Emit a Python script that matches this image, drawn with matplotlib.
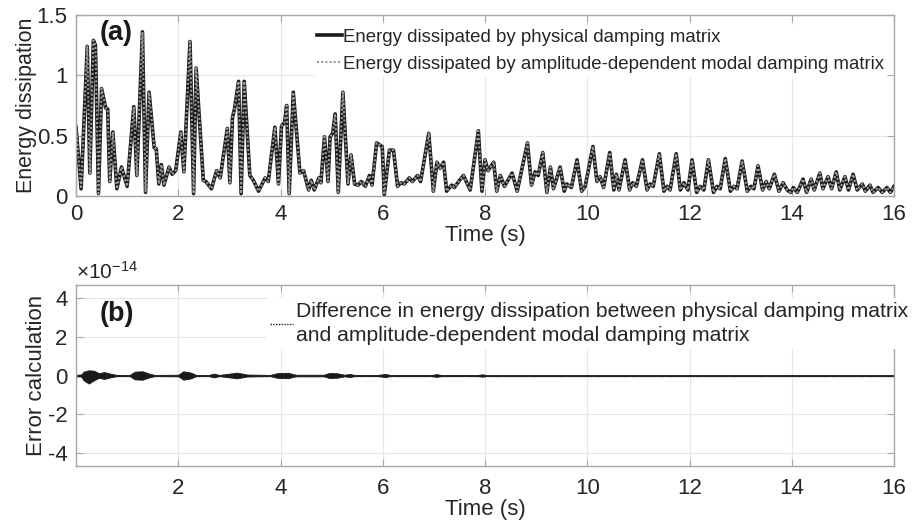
import matplotlib
matplotlib.use("Agg")
import matplotlib.pyplot as plt
import numpy as np

# ---------------- data ----------------
energy_time = [0.00, 0.10, 0.22, 0.27, 0.34, 0.38, 0.44, 0.50, 0.58, 0.62, 0.66, 0.72, 0.80, 0.89,
               1.00, 1.13, 1.19, 1.30, 1.36, 1.43, 1.53, 1.57, 1.62, 1.67, 1.72, 1.82, 1.88, 1.95,
               2.05, 2.11, 2.23, 2.30, 2.35, 2.49, 2.54, 2.65, 2.75, 2.82, 2.96, 3.01, 3.06, 3.10,
               3.18, 3.23, 3.29, 3.40, 3.47, 3.57, 3.70, 3.76, 3.89, 3.96, 4.02, 4.08, 4.12, 4.17,
               4.25, 4.38, 4.45, 4.55, 4.60, 4.66, 4.75, 4.79, 4.86, 4.93, 4.97, 5.02, 5.07, 5.13,
               5.22, 5.32, 5.38, 5.45, 5.52, 5.58, 5.66, 5.74, 5.79, 5.88, 5.99, 6.03, 6.13, 6.21,
               6.29, 6.35, 6.42, 6.52, 6.58, 6.68, 6.74, 6.90, 6.99, 7.06, 7.12, 7.19, 7.25, 7.35,
               7.40, 7.45, 7.52, 7.58, 7.71, 7.87, 7.94, 8.00, 8.06, 8.17, 8.23, 8.30, 8.38, 8.53,
               8.63, 8.83, 8.91, 8.98, 9.04, 9.13, 9.21, 9.28, 9.34, 9.47, 9.55, 9.60, 9.69, 9.80,
               9.89, 9.96, 10.11, 10.19, 10.25, 10.32, 10.44, 10.52, 10.57, 10.62, 10.74, 10.83,
               10.89, 10.96, 11.08, 11.17, 11.23, 11.29, 11.41, 11.50, 11.56, 11.62, 11.74, 11.82,
               11.89, 11.97, 12.05, 12.14, 12.21, 12.28, 12.37, 12.47, 12.54, 12.60, 12.70, 12.80,
               12.87, 12.93, 13.03, 13.13, 13.20, 13.26, 13.34, 13.43, 13.50, 13.56, 13.66, 13.75,
               13.83, 13.91, 13.98, 14.03, 14.11, 14.22, 14.29, 14.38, 14.44, 14.55, 14.61, 14.71,
               14.78, 14.87, 14.94, 15.04, 15.11, 15.20, 15.28, 15.38, 15.44, 15.53, 15.59, 15.69,
               15.77, 15.86, 15.93, 16.00]

energy_physical = [0.57, 0.06, 1.24, 0.19, 1.29, 1.25, 0.02, 0.89, 0.73, 0.72, 0.12, 0.53, 0.06, 0.24,
                   0.08, 0.74, 0.17, 1.36, 0.03, 0.86, 0.40, 0.39, 0.10, 0.26, 0.09, 0.24, 0.18, 0.21,
                   0.53, 0.20, 1.28, 0.02, 1.06, 0.13, 0.12, 0.06, 0.21, 0.15, 0.56, 0.11, 0.65, 0.72,
                   0.95, 0.02, 0.95, 0.17, 0.13, 0.04, 0.15, 0.12, 0.57, 0.10, 0.58, 0.61, 0.75, 0.02,
                   0.86, 0.19, 0.21, 0.05, 0.13, 0.05, 0.15, 0.11, 0.49, 0.12, 0.49, 0.52, 0.68, 0.03,
                   0.86, 0.10, 0.34, 0.10, 0.09, 0.12, 0.08, 0.17, 0.09, 0.44, 0.41, 0.01, 0.38, 0.38,
                   0.08, 0.11, 0.10, 0.15, 0.12, 0.17, 0.12, 0.52, 0.04, 0.28, 0.23, 0.28, 0.04, 0.09,
                   0.07, 0.10, 0.14, 0.17, 0.05, 0.54, 0.04, 0.30, 0.21, 0.28, 0.04, 0.17, 0.08, 0.19,
                   0.04, 0.44, 0.09, 0.20, 0.17, 0.36, 0.03, 0.24, 0.06, 0.24, 0.04, 0.10, 0.07, 0.30,
                   0.04, 0.08, 0.41, 0.12, 0.16, 0.07, 0.36, 0.05, 0.18, 0.05, 0.30, 0.05,
                   0.11, 0.08, 0.30, 0.05, 0.10, 0.08, 0.35, 0.04, 0.08, 0.05, 0.35, 0.05,
                   0.11, 0.05, 0.30, 0.03, 0.08, 0.05, 0.30, 0.03, 0.08, 0.06, 0.31, 0.04,
                   0.08, 0.06, 0.29, 0.04, 0.08, 0.06, 0.25, 0.05, 0.12, 0.06, 0.18, 0.04,
                   0.11, 0.05, 0.03, 0.07, 0.03, 0.14, 0.03, 0.14, 0.05, 0.19, 0.06, 0.16,
                   0.06, 0.20, 0.05, 0.16, 0.05, 0.18, 0.05, 0.10, 0.04, 0.09, 0.03, 0.07,
                   0.03, 0.07, 0.03, 0.08]

# the modal-damping result coincides with the physical one (difference ~1e-14)
energy_modal = list(energy_physical)

# envelope of the difference signal, in units of 1e-14
error_time = [0.00, 0.10, 0.15, 0.25, 0.35, 0.45, 0.55, 0.70, 0.80, 1.05, 1.15, 1.30, 1.45, 1.55,
              2.00, 2.10, 2.25, 2.35, 2.60, 2.70, 2.80, 2.95, 3.15, 3.35, 3.80, 3.95, 4.15, 4.30,
              4.85, 4.95, 5.10, 5.25, 5.35, 5.45, 5.90, 6.05, 6.15, 6.95, 7.05, 7.15, 7.85, 7.95,
              8.05, 16.00]
error_upper = [0.04, 0.05, 0.20, 0.27, 0.25, 0.12, 0.18, 0.08, 0.03, 0.03, 0.20, 0.22, 0.08, 0.03,
               0.04, 0.22, 0.15, 0.03, 0.03, 0.10, 0.03, 0.08, 0.15, 0.05, 0.03, 0.13, 0.14, 0.04,
               0.04, 0.13, 0.12, 0.04, 0.08, 0.03, 0.03, 0.08, 0.03, 0.03, 0.07, 0.03, 0.03, 0.06,
               0.02, 0.02]
error_lower = [-0.04, -0.05, -0.25, -0.42, -0.25, -0.12, -0.18, -0.08, -0.03, -0.03, -0.20, -0.22, -0.08, -0.03,
               -0.04, -0.22, -0.15, -0.03, -0.03, -0.10, -0.03, -0.08, -0.15, -0.05, -0.03, -0.13, -0.14, -0.04,
               -0.04, -0.13, -0.12, -0.04, -0.08, -0.03, -0.03, -0.08, -0.03, -0.03, -0.07, -0.03, -0.03, -0.06,
               -0.02, -0.02]
error_center = [0.0] * len(error_time)

top_xticks = [0, 2, 4, 6, 8, 10, 12, 14, 16]
top_yticks = [0, 0.5, 1, 1.5]
top_yticklabels = ["0", "0.5", "1", "1.5"]
bot_xticks = [2, 4, 6, 8, 10, 12, 14, 16]
bot_yticks = [-4, -2, 0, 2, 4]

label_physical = "Energy dissipated by physical damping matrix"
label_modal = "Energy dissipated by amplitude-dependent modal damping matrix"
label_diff = ("Difference in energy dissipation between physical damping matrix\n"
              "and amplitude-dependent modal damping matrix")

# ---------------- style ----------------
plt.rcParams['font.family'] = ['Liberation Sans', 'DejaVu Sans']
plt.rcParams['mathtext.fontset'] = 'custom'
plt.rcParams['mathtext.rm'] = 'Liberation Sans'
plt.rcParams['mathtext.it'] = 'Liberation Sans'
plt.rcParams['axes.unicode_minus'] = False

W, H = 918, 521
fig = plt.figure(figsize=(W / 100, H / 100), dpi=100)

def px_axes(left, top, right, bottom):
    return fig.add_axes([left / W, 1 - bottom / H, (right - left) / W, (bottom - top) / H])

spine_col = '#a6a6a6'
grid_col = '#e6e6e6'
text_col = '#262626'
FS = 16

def style(ax, xpad):
    for s in ax.spines.values():
        s.set_color(spine_col)
        s.set_linewidth(1.0)
    ax.tick_params(direction='in', top=True, right=True, length=5, width=0.8,
                   color=spine_col, labelcolor=text_col, labelsize=FS)
    ax.tick_params(axis='x', pad=xpad)
    ax.tick_params(axis='y', pad=6)
    ax.grid(True, color=grid_col, linewidth=0.8)
    ax.set_axisbelow(True)

# ---------------- top panel ----------------
ax1 = px_axes(76, 15, 894, 196)
style(ax1, 6)
ax1.plot(energy_time, energy_physical, color='#1a1a1a', lw=2.6, solid_joinstyle='round',
         label=label_physical)
ax1.plot(energy_time, energy_modal, color='#9a9a9a', lw=1.5, linestyle=(0, (1, 1)),
         label=label_modal)
ax1.set_xlim(0, 16)
ax1.set_ylim(0, 1.5)
ax1.set_xticks(top_xticks)
ax1.set_yticks(top_yticks)
ax1.set_yticklabels(top_yticklabels)
ax1.set_xlabel("Time (s)", fontsize=FS, color=text_col, labelpad=0)
ax1.set_ylabel("Energy dissipation", fontsize=15.5, color=text_col, labelpad=0)
ax1.text(0.78, 1.35, "(a)", fontsize=19.5, fontweight='bold', color='#1a1a1a',
         ha='center', va='center')
leg1 = ax1.legend(loc='upper left', bbox_to_anchor=(0.290, 0.945), borderaxespad=0,
                  frameon=True, facecolor='white', edgecolor='none', framealpha=1,
                  fontsize=13.4, handlelength=1.35, handletextpad=0.05, borderpad=0.2,
                  labelspacing=0.55)
for t in leg1.get_texts():
    t.set_color(text_col)

# ---------------- bottom panel ----------------
ax2 = px_axes(76, 285, 894, 466)
style(ax2, 9)
ax2.fill_between(error_time, error_lower, error_upper, color='#1a1a1a', lw=0.6, edgecolor='#1a1a1a')
ax2.plot(error_time, error_center, color='#1a1a1a', lw=1.0, linestyle=(0, (1, 1)), label=label_diff)
ax2.set_xlim(0, 16)
ax2.set_ylim(-4.7, 4.7)
ax2.set_xticks(bot_xticks)
ax2.set_yticks(bot_yticks)
ax2.set_xlabel("Time (s)", fontsize=FS, color=text_col, labelpad=0)
ax2.set_ylabel("Error calculation", fontsize=FS, color=text_col, labelpad=1)
ax2.text(0.0, 1.01, r'$\times\mathregular{10^{-14}}$', transform=ax2.transAxes,
         fontsize=15, color=text_col, ha='left', va='bottom')
ax2.text(0.8, 3.2, "(b)", fontsize=19.5, fontweight='bold', color='#1a1a1a',
         ha='center', va='center')
leg2 = ax2.legend(loc='upper left', bbox_to_anchor=(0.232, 0.93), borderaxespad=0,
                  frameon=True, facecolor='white', edgecolor='none', framealpha=1,
                  fontsize=15.2, handlelength=1.1, handletextpad=0.15, borderpad=0.2)
for t in leg2.get_texts():
    t.set_color(text_col)
    t.set_linespacing(1.35)

fig.savefig("out.png", dpi=100, facecolor='white')
